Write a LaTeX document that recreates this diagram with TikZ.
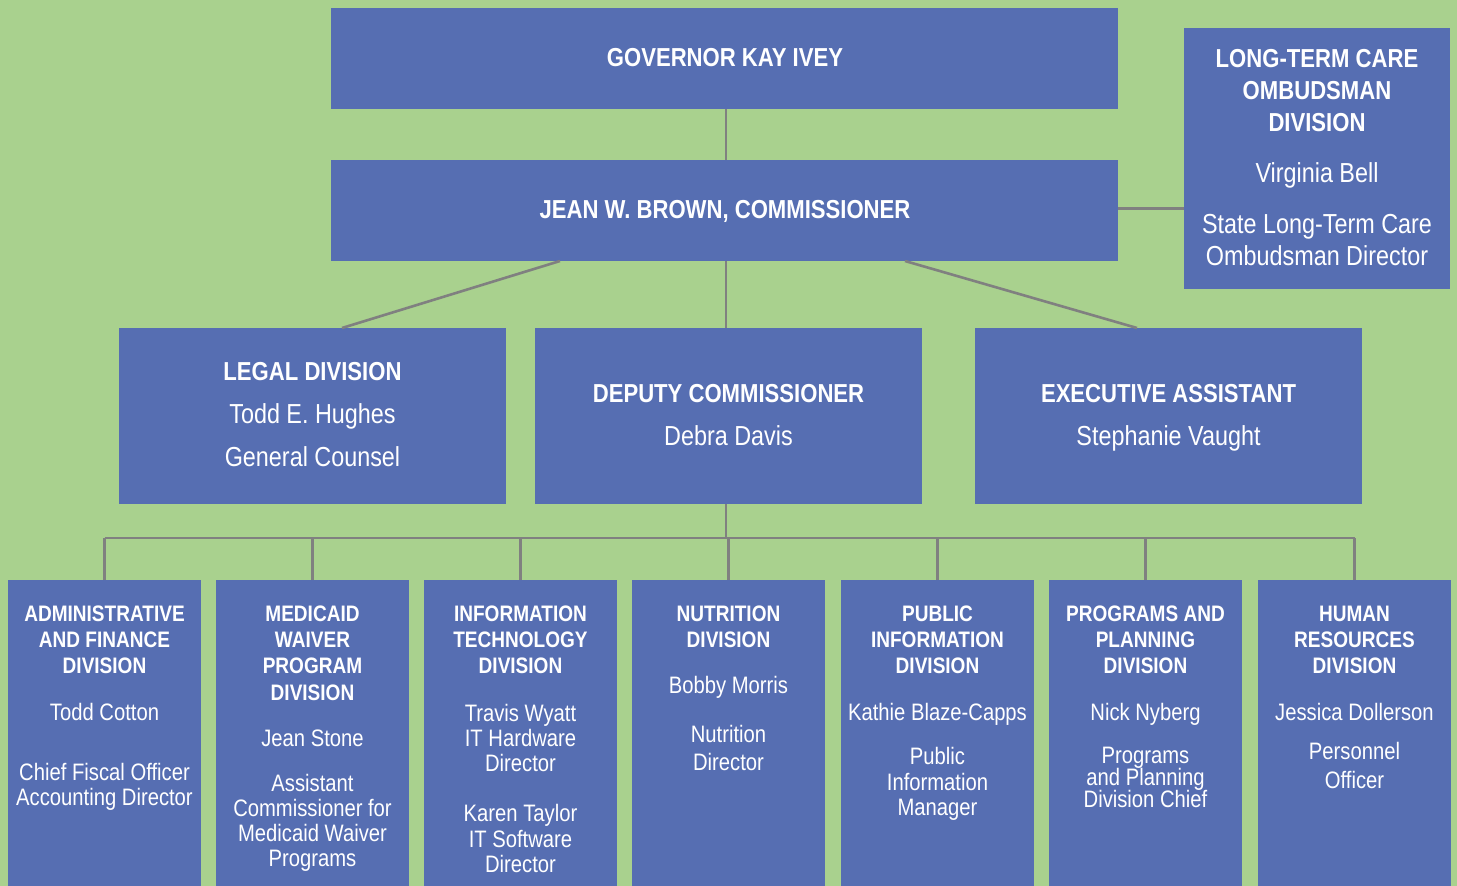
\documentclass[tikz,border=0pt]{standalone}
\usepackage{fontspec}
\setmainfont{Liberation Sans}[FakeStretch=0.85]
\definecolor{bggreen}{HTML}{A9D18E}
\definecolor{boxblue}{HTML}{566EB2}
\definecolor{linkgray}{HTML}{808080}
% one text line: name, x, y, text
\newcommand\mkhead[4]{\node[head] (#1) at (#2,#3) {#4};}
\newcommand\mkbody[4]{\node[body] (#1) at (#2,#3) {#4};}
\newcommand\mkbighead[4]{\node[bighead] (#1) at (#2,#3) {#4};}
\newcommand\mkbigbody[4]{\node[bigbody] (#1) at (#2,#3) {#4};}
\begin{document}
\begin{tikzpicture}[x=1pt,y=-1pt,
  unit/.style={fill=boxblue, draw=none, inner sep=0, outer sep=0},
  link/.style={draw=linkgray, line width=2.6pt},
  head/.style={text=white, inner sep=0, font=\bfseries\fontsize{22.4}{26}\selectfont, text height=16pt, text depth=0pt},
  body/.style={text=white, inner sep=0, font=\fontsize{23.8}{26}\selectfont, text height=17pt, text depth=0pt},
  bighead/.style={text=white, inner sep=0, font=\bfseries\fontsize{26}{30}\selectfont, text height=18.6pt, text depth=0pt},
  bigbody/.style={text=white, inner sep=0, font=\fontsize{27.5}{32}\selectfont, text height=19.7pt, text depth=0pt}]
\fill[bggreen] (0,0) rectangle (1457,886);
\useasboundingbox (0,0) rectangle (1457,886);

% upper boxes
\node[unit, minimum width=787pt, minimum height=101pt] (gov) at (724.5,58.5) {};
\node[unit, minimum width=787pt, minimum height=101pt] (com) at (724.5,210.5) {};
\node[unit, minimum width=266pt, minimum height=261pt] (omb) at (1317,158.5) {};
\node[unit, minimum width=387pt, minimum height=176pt] (legal) at (312.5,416) {};
\node[unit, minimum width=387pt, minimum height=176pt] (dep) at (728.5,416) {};
\node[unit, minimum width=387pt, minimum height=176pt] (exa) at (1168.5,416) {};

% division boxes
\foreach \i/\cx in {1/104.5,2/312.5,3/520.5,4/728.5,5/937.5,6/1145.5,7/1354.5}
  \node[unit, minimum width=193pt, minimum height=306pt] (d\i) at (\cx,733) {};

% connectors
\coordinate (bus) at (726,538);
\draw[link] (726,0 |- gov.south) -- (726,0 |- com.north);
\draw[link] ([yshift=2pt]com.east) -- ([yshift=2pt]com.east -| omb.west);
\draw[link] ([xshift=229pt]com.south west) -- ([xshift=29.5pt]legal.north);
\draw[link] (726,0 |- com.south) -- (726,0 |- dep.north);
\draw[link] ([xshift=-213pt]com.south east) -- ([xshift=-31.5pt]exa.north);
\draw[link] (726,0 |- dep.south) -- (bus);
\draw[link] (d1.north |- bus) -- (d7.north |- bus);
\foreach \i in {1,...,7}
  \draw[link] (d\i.north) -- (d\i.north |- bus);

% upper texts
\mkbighead{gov-1}{725}{57}{GOVERNOR KAY IVEY}
\mkbighead{com-1}{725}{209}{JEAN W. BROWN, COMMISSIONER}
\mkbighead{omb-1}{1317}{58}{LONG-TERM CARE}
\mkbighead{omb-2}{1317}{90}{OMBUDSMAN}
\mkbighead{omb-3}{1317}{122}{DIVISION}
\mkbigbody{omb-4}{1317}{173}{Virginia Bell}
\mkbigbody{omb-5}{1317}{224}{State Long-Term Care}
\mkbigbody{omb-6}{1317}{256}{Ombudsman Director}
\mkbighead{legal-1}{312.5}{371}{LEGAL DIVISION}
\mkbigbody{legal-2}{312.5}{414}{Todd E. Hughes}
\mkbigbody{legal-3}{312.5}{457}{General Counsel}
\mkbighead{dep-1}{728.5}{393}{DEPUTY COMMISSIONER}
\mkbigbody{dep-2}{728.5}{436}{Debra Davis}
\mkbighead{exa-1}{1168.5}{393}{EXECUTIVE ASSISTANT}
\mkbigbody{exa-2}{1168.5}{436}{Stephanie Vaught}

% division texts
\mkhead{d1-1}{104.5}{613}{ADMINISTRATIVE}
\mkhead{d1-2}{104.5}{639}{AND FINANCE}
\mkhead{d1-3}{104.5}{665}{DIVISION}
\mkbody{d1-4}{104.5}{712}{Todd Cotton}
\mkbody{d1-5}{104.5}{772}{Chief Fiscal Officer}
\mkbody{d1-6}{104.5}{797}{Accounting Director}

\mkhead{d2-1}{312.5}{613}{MEDICAID}
\mkhead{d2-2}{312.5}{639}{WAIVER}
\mkhead{d2-3}{312.5}{665}{PROGRAM}
\mkhead{d2-4}{312.5}{692}{DIVISION}
\mkbody{d2-5}{312.5}{738}{Jean Stone}
\mkbody{d2-6}{312.5}{783}{Assistant}
\mkbody{d2-7}{312.5}{808}{Commissioner for}
\mkbody{d2-8}{312.5}{833}{Medicaid Waiver}
\mkbody{d2-9}{312.5}{858}{Programs}

\mkhead{d3-1}{520.5}{613}{INFORMATION}
\mkhead{d3-2}{520.5}{639}{TECHNOLOGY}
\mkhead{d3-3}{520.5}{665}{DIVISION}
\mkbody{d3-4}{520.5}{713}{Travis Wyatt}
\mkbody{d3-5}{520.5}{738}{IT Hardware}
\mkbody{d3-6}{520.5}{763}{Director}
\mkbody{d3-7}{520.5}{813}{Karen Taylor}
\mkbody{d3-8}{520.5}{839}{IT Software}
\mkbody{d3-9}{520.5}{864}{Director}

\mkhead{d4-1}{728.5}{613}{NUTRITION}
\mkhead{d4-2}{728.5}{639}{DIVISION}
\mkbody{d4-3}{728.5}{685}{Bobby Morris}
\mkbody{d4-4}{728.5}{734}{Nutrition}
\mkbody{d4-5}{728.5}{762}{Director}

\mkhead{d5-1}{937.5}{613}{PUBLIC}
\mkhead{d5-2}{937.5}{639}{INFORMATION}
\mkhead{d5-3}{937.5}{665}{DIVISION}
\mkbody{d5-4}{937.5}{712}{Kathie Blaze-Capps}
\mkbody{d5-5}{937.5}{756}{Public}
\mkbody{d5-6}{937.5}{782}{Information}
\mkbody{d5-7}{937.5}{807}{Manager}

\mkhead{d6-1}{1145.5}{613}{PROGRAMS AND}
\mkhead{d6-2}{1145.5}{639}{PLANNING}
\mkhead{d6-3}{1145.5}{665}{DIVISION}
\mkbody{d6-4}{1145.5}{712}{Nick Nyberg}
\mkbody{d6-5}{1145.5}{755}{Programs}
\mkbody{d6-6}{1145.5}{777}{and Planning}
\mkbody{d6-7}{1145.5}{799}{Division Chief}

\mkhead{d7-1}{1354.5}{613}{HUMAN}
\mkhead{d7-2}{1354.5}{639}{RESOURCES}
\mkhead{d7-3}{1354.5}{665}{DIVISION}
\mkbody{d7-4}{1354.5}{712}{Jessica Dollerson}
\mkbody{d7-5}{1354.5}{751}{Personnel}
\mkbody{d7-6}{1354.5}{780}{Officer}
\end{tikzpicture}
\end{document}
